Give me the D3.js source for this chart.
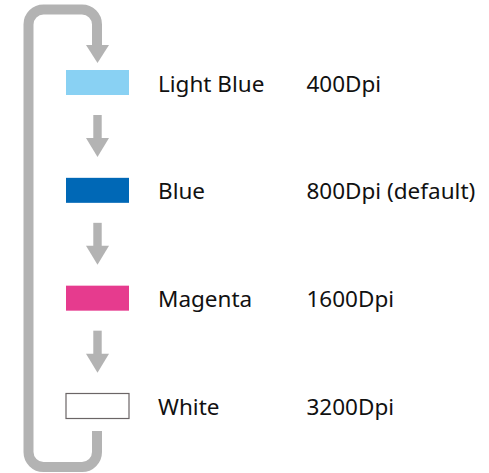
<!DOCTYPE html>
<html>
<head>
<meta charset="utf-8">
<script src="https://cdn.jsdelivr.net/npm/d3@7"></script>
<style>
  html, body { margin: 0; padding: 0; background: #fff; }
  text { font-family: "Noto Sans", "Open Sans", sans-serif; fill: #111; }
</style>
</head>
<body>
<script>
"use strict";

var colorNames = ["Light Blue", "Blue", "Magenta", "White"];
var dpiLabels = ["400Dpi", "800Dpi (default)", "1600Dpi", "3200Dpi"];
var swatchFills = ["#89d1f3", "#0068b6", "#e63b8e", "#ffffff"];
var swatchStrokes = ["none", "none", "none", "#6b6566"];

var width = 489;
var height = 473;
var gray = "#b3b3b3";

var svg = d3.select("body").append("svg")
    .attr("width", width)
    .attr("height", height);

// vertical position of each step
var yScale = d3.scalePoint()
    .domain(colorNames)
    .range([82.5, 406]);

var swatch = { x: 66, w: 63, h: 25 };
var arrowX = 97.5;

// loop pipe going back from last to first
var loop = d3.path();
var r = 15, lx = 28.5, rx = 97, ty = 9.5, by = 467;
loop.moveTo(rx, 47);
loop.lineTo(rx, ty + r);
loop.arcTo(rx, ty, rx - r, ty, r);
loop.lineTo(lx + r, ty);
loop.arcTo(lx, ty, lx, ty + r, r);
loop.lineTo(lx, by - r);
loop.arcTo(lx, by, lx + r, by, r);
loop.lineTo(rx - r, by);
loop.arcTo(rx, by, rx, by - r, r);
loop.lineTo(rx, 431);

svg.append("path")
    .attr("d", loop.toString())
    .attr("fill", "none")
    .attr("stroke", gray)
    .attr("stroke-width", 10);

// head of the loop arrow
svg.append("path")
    .attr("d", "M" + (arrowX - 11.5) + ",45 L" + (arrowX + 11.5) + ",45 L" + arrowX + ",63 Z")
    .attr("fill", gray);

// arrows between steps
var steps = colorNames.slice(0, -1);
var arrows = svg.append("g").selectAll("g")
    .data(steps)
    .enter()
    .append("g")
    .attr("transform", function(d) { return "translate(" + arrowX + "," + yScale(d) + ")"; });

arrows.append("rect")
    .attr("x", -4.2)
    .attr("y", 32.5)
    .attr("width", 8.4)
    .attr("height", 24);

arrows.append("path")
    .attr("d", "M-11.5,55.5 L11.5,55.5 L0,74.5 Z");

arrows.attr("fill", gray);

// swatches and labels
var rows = svg.append("g").selectAll("g")
    .data(colorNames)
    .enter()
    .append("g")
    .attr("transform", function(d) { return "translate(0," + yScale(d) + ")"; });

rows.append("rect")
    .attr("x", swatch.x)
    .attr("y", -swatch.h / 2)
    .attr("width", swatch.w)
    .attr("height", swatch.h)
    .attr("fill", function(d, i) { return swatchFills[i]; })
    .attr("stroke", function(d, i) { return swatchStrokes[i]; })
    .attr("stroke-width", 1.2);

rows.append("text")
    .attr("x", 158)
    .attr("dy", "0.4em")
    .attr("font-size", 22.5)
    .text(function(d) { return d; });

rows.append("text")
    .attr("x", 306.5)
    .attr("dy", "0.4em")
    .attr("font-size", 22.5)
    .text(function(d, i) { return dpiLabels[i]; });
</script>
</body>
</html>
